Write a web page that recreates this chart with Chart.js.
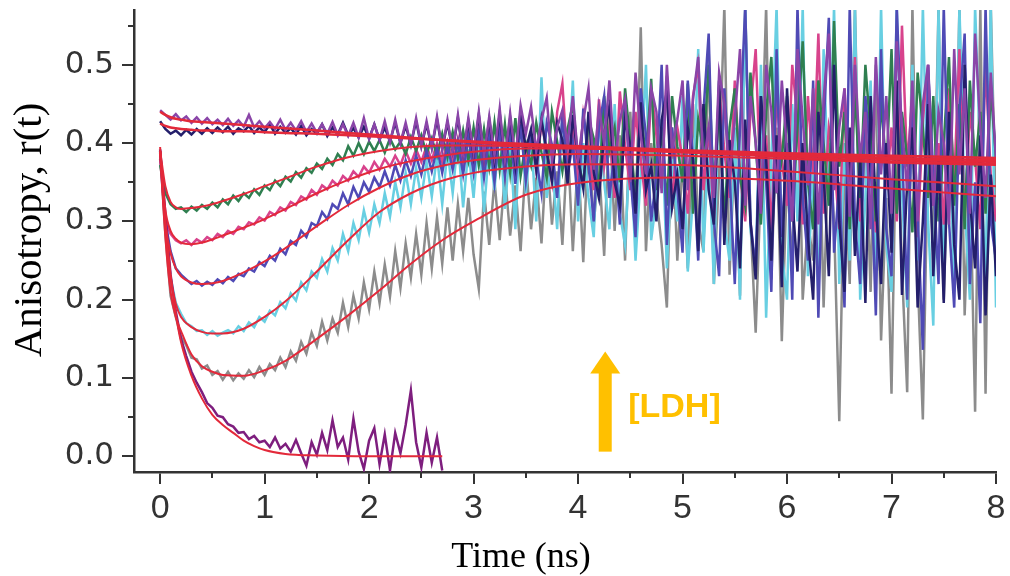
<!DOCTYPE html>
<html>
<head>
<meta charset="utf-8">
<script src="https://cdn.jsdelivr.net/npm/chart.js@4/dist/chart.umd.min.js"></script>
<style>
  body { margin: 0; background: #fff; }
  canvas { display: block; }
</style>
</head>
<body>
<canvas id="chart" width="1010" height="576"></canvas>
<script>
// time axis of the measured traces (ns)
const times = [
  0, 0.05, 0.1, 0.15, 0.2, 0.25, 0.3, 0.35, 0.4, 0.45,
  0.5, 0.55, 0.6, 0.65, 0.7, 0.75, 0.8, 0.85, 0.9, 0.95,
  1, 1.05, 1.1, 1.15, 1.2, 1.25, 1.3, 1.35, 1.4, 1.45,
  1.5, 1.55, 1.6, 1.65, 1.7, 1.75, 1.8, 1.85, 1.9, 1.95,
  2, 2.05, 2.1, 2.15, 2.2, 2.25, 2.3, 2.35, 2.4, 2.45,
  2.5, 2.55, 2.6, 2.65, 2.7, 2.75, 2.8, 2.85, 2.9, 2.95,
  3, 3.05, 3.1, 3.15, 3.2, 3.25, 3.3, 3.35, 3.4, 3.45,
  3.5, 3.55, 3.6, 3.65, 3.7, 3.75, 3.8, 3.85, 3.9, 3.95,
  4, 4.05, 4.1, 4.15, 4.2, 4.25, 4.3, 4.35, 4.4, 4.45,
  4.5, 4.55, 4.6, 4.65, 4.7, 4.75, 4.8, 4.85, 4.9, 4.95,
  5, 5.05, 5.1, 5.15, 5.2, 5.25, 5.3, 5.35, 5.4, 5.45,
  5.5, 5.55, 5.6, 5.65, 5.7, 5.75, 5.8, 5.85, 5.9, 5.95,
  6, 6.05, 6.1, 6.15, 6.2, 6.25, 6.3, 6.35, 6.4, 6.45,
  6.5, 6.55, 6.6, 6.65, 6.7, 6.75, 6.8, 6.85, 6.9, 6.95,
  7, 7.05, 7.1, 7.15, 7.2, 7.25, 7.3, 7.35, 7.4, 7.45,
  7.5, 7.55, 7.6, 7.65, 7.7, 7.75, 7.8, 7.85, 7.9, 7.95,
  8
];

// measured anisotropy traces, one per [LDH]
const navyTrace = [
  0.428, 0.418, 0.412, 0.416, 0.410, 0.417, 0.411, 0.418, 0.412, 0.419,
  0.413, 0.420, 0.414, 0.421, 0.412, 0.419, 0.415, 0.422, 0.413, 0.420,
  0.414, 0.424, 0.412, 0.421, 0.413, 0.419, 0.411, 0.422, 0.410, 0.418,
  0.412, 0.424, 0.409, 0.420, 0.411, 0.426, 0.410, 0.419, 0.407, 0.421,
  0.406, 0.424, 0.404, 0.420, 0.402, 0.426, 0.400, 0.422, 0.398, 0.428,
  0.396, 0.424, 0.394, 0.430, 0.392, 0.426, 0.390, 0.432, 0.386, 0.428,
  0.384, 0.436, 0.382, 0.430, 0.378, 0.438, 0.376, 0.432, 0.372, 0.440,
  0.392, 0.418, 0.366, 0.430, 0.388, 0.352, 0.426, 0.404, 0.348, 0.436,
  0.380, 0.342, 0.440, 0.362, 0.330, 0.412, 0.448, 0.350, 0.320, 0.430,
  0.396, 0.310, 0.452, 0.340, 0.372, 0.300, 0.430, 0.466, 0.318, 0.360,
  0.290, 0.420, 0.380, 0.262, 0.450, 0.340, 0.296, 0.480, 0.270, 0.404,
  0.350, 0.240, 0.430, 0.300, 0.226, 0.460, 0.380, 0.250, 0.410, 0.216,
  0.470, 0.330, 0.236, 0.400, 0.280, 0.200, 0.440, 0.360, 0.230, 0.500,
  0.300, 0.210, 0.420, 0.256, 0.380, 0.196, 0.460, 0.320, 0.220, 0.400,
  0.260, 0.480, 0.206, 0.350, 0.420, 0.190, 0.300, 0.450, 0.230, 0.380,
  0.196, 0.440, 0.270, 0.200, 0.500, 0.330, 0.240, 0.410, 0.180, 0.360,
  0.230
];
const purpleTrace = [
  0.442, 0.436, 0.430, 0.437, 0.429, 0.434, 0.426, 0.433, 0.425, 0.432,
  0.424, 0.430, 0.423, 0.431, 0.422, 0.429, 0.421, 0.436, 0.420, 0.428,
  0.419, 0.427, 0.418, 0.430, 0.417, 0.426, 0.416, 0.428, 0.414, 0.425,
  0.413, 0.424, 0.412, 0.427, 0.410, 0.424, 0.409, 0.426, 0.407, 0.432,
  0.405, 0.424, 0.404, 0.428, 0.401, 0.430, 0.400, 0.426, 0.398, 0.432,
  0.396, 0.428, 0.394, 0.434, 0.392, 0.430, 0.390, 0.436, 0.386, 0.432,
  0.388, 0.440, 0.382, 0.434, 0.384, 0.444, 0.378, 0.438, 0.380, 0.448,
  0.412, 0.446, 0.390, 0.430, 0.458, 0.376, 0.420, 0.442, 0.398, 0.460,
  0.380, 0.428, 0.470, 0.366, 0.446, 0.400, 0.480, 0.372, 0.430, 0.456,
  0.350, 0.490, 0.410, 0.360, 0.470, 0.440, 0.336, 0.500, 0.390, 0.430,
  0.480, 0.340, 0.456, 0.510, 0.370, 0.420, 0.330, 0.490, 0.450, 0.356,
  0.430, 0.520, 0.320, 0.460, 0.400, 0.310, 0.500, 0.440, 0.336, 0.480,
  0.390, 0.300, 0.520, 0.430, 0.346, 0.470, 0.296, 0.456, 0.540, 0.340,
  0.420, 0.470, 0.306, 0.500, 0.380, 0.440, 0.290, 0.510, 0.360, 0.460,
  0.310, 0.530, 0.420, 0.340, 0.480, 0.300, 0.450, 0.500, 0.320, 0.440,
  0.400, 0.296, 0.520, 0.360, 0.470, 0.310, 0.540, 0.420, 0.330, 0.490,
  0.380
];
const greenTrace = [
  0.372, 0.336, 0.322, 0.316, 0.318, 0.312, 0.319, 0.314, 0.321, 0.316,
  0.324, 0.318, 0.328, 0.322, 0.333, 0.326, 0.336, 0.330, 0.341, 0.334,
  0.346, 0.340, 0.352, 0.345, 0.357, 0.351, 0.363, 0.356, 0.368, 0.362,
  0.374, 0.367, 0.380, 0.372, 0.386, 0.378, 0.396, 0.384, 0.400, 0.386,
  0.402, 0.390, 0.404, 0.388, 0.406, 0.392, 0.402, 0.386, 0.408, 0.390,
  0.410, 0.386, 0.406, 0.384, 0.412, 0.382, 0.414, 0.380, 0.416, 0.378,
  0.420, 0.372, 0.418, 0.370, 0.426, 0.366, 0.424, 0.362, 0.432, 0.358,
  0.400, 0.372, 0.426, 0.388, 0.356, 0.440, 0.402, 0.364, 0.418, 0.450,
  0.380, 0.346, 0.432, 0.406, 0.338, 0.460, 0.390, 0.420, 0.350, 0.470,
  0.400, 0.330, 0.446, 0.376, 0.482, 0.340, 0.420, 0.320, 0.460, 0.396,
  0.350, 0.476, 0.310, 0.430, 0.390, 0.500, 0.330, 0.450, 0.300, 0.420,
  0.470, 0.356, 0.320, 0.490, 0.400, 0.296, 0.440, 0.510, 0.336, 0.380,
  0.460, 0.300, 0.420, 0.530, 0.350, 0.290, 0.480, 0.400, 0.320, 0.556,
  0.370, 0.440, 0.290, 0.470, 0.330, 0.500, 0.410, 0.300, 0.456, 0.360,
  0.520, 0.310, 0.440, 0.380, 0.286, 0.490, 0.420, 0.330, 0.460, 0.300,
  0.400, 0.510, 0.320, 0.450, 0.290, 0.480, 0.370, 0.440, 0.310, 0.470,
  0.380
];
const pinkTrace = [
  0.380, 0.300, 0.284, 0.276, 0.272, 0.276, 0.270, 0.277, 0.273, 0.280,
  0.276, 0.284, 0.280, 0.288, 0.284, 0.293, 0.290, 0.299, 0.296, 0.305,
  0.301, 0.312, 0.308, 0.318, 0.314, 0.325, 0.321, 0.332, 0.328, 0.340,
  0.334, 0.346, 0.341, 0.352, 0.346, 0.358, 0.352, 0.364, 0.357, 0.370,
  0.362, 0.376, 0.366, 0.380, 0.370, 0.384, 0.372, 0.390, 0.374, 0.392,
  0.376, 0.396, 0.378, 0.400, 0.376, 0.402, 0.378, 0.406, 0.374, 0.410,
  0.372, 0.414, 0.370, 0.420, 0.366, 0.424, 0.362, 0.430, 0.358, 0.436,
  0.380, 0.410, 0.364, 0.426, 0.392, 0.350, 0.440, 0.476, 0.372, 0.420,
  0.350, 0.436, 0.390, 0.340, 0.456, 0.370, 0.420, 0.330, 0.466, 0.396,
  0.340, 0.440, 0.380, 0.320, 0.470, 0.410, 0.350, 0.486, 0.316, 0.420,
  0.380, 0.310, 0.460, 0.500, 0.340, 0.420, 0.300, 0.470, 0.390, 0.330,
  0.480, 0.360, 0.300, 0.440, 0.520, 0.330, 0.410, 0.290, 0.460, 0.380,
  0.320, 0.500, 0.430, 0.296, 0.460, 0.360, 0.540, 0.310, 0.420, 0.380,
  0.290, 0.470, 0.350, 0.510, 0.300, 0.440, 0.400, 0.286, 0.490, 0.340,
  0.420, 0.300, 0.550, 0.370, 0.460, 0.280, 0.430, 0.500, 0.320, 0.400,
  0.296, 0.470, 0.350, 0.520, 0.300, 0.440, 0.380, 0.290, 0.500, 0.360,
  0.300
];
const indigoTrace = [
  0.390, 0.300, 0.262, 0.240, 0.232, 0.226, 0.220, 0.224, 0.218, 0.223,
  0.219, 0.226, 0.221, 0.229, 0.224, 0.233, 0.230, 0.240, 0.236, 0.248,
  0.243, 0.256, 0.250, 0.265, 0.258, 0.275, 0.270, 0.288, 0.280, 0.298,
  0.294, 0.312, 0.303, 0.322, 0.316, 0.336, 0.322, 0.344, 0.330, 0.350,
  0.338, 0.356, 0.344, 0.364, 0.346, 0.372, 0.352, 0.378, 0.358, 0.384,
  0.360, 0.390, 0.364, 0.394, 0.362, 0.398, 0.366, 0.402, 0.360, 0.408,
  0.362, 0.412, 0.356, 0.410, 0.350, 0.420, 0.358, 0.416, 0.348, 0.424,
  0.352, 0.410, 0.380, 0.336, 0.426, 0.398, 0.330, 0.436, 0.360, 0.400,
  0.320, 0.444, 0.372, 0.300, 0.420, 0.460, 0.330, 0.390, 0.296, 0.450,
  0.360, 0.280, 0.470, 0.410, 0.300, 0.360, 0.500, 0.270, 0.420, 0.340,
  0.260, 0.480, 0.380, 0.250, 0.440, 0.540, 0.300, 0.230, 0.470, 0.360,
  0.220, 0.420, 0.575, 0.300, 0.240, 0.460, 0.350, 0.210, 0.520, 0.280,
  0.400, 0.200, 0.575, 0.330, 0.250, 0.480, 0.177, 0.420, 0.560, 0.260,
  0.350, 0.190, 0.575, 0.300, 0.220, 0.460, 0.380, 0.180, 0.520, 0.290,
  0.230, 0.575, 0.400, 0.200, 0.460, 0.310, 0.136, 0.500, 0.360, 0.220,
  0.575, 0.300, 0.190, 0.440, 0.540, 0.220, 0.350, 0.170, 0.575, 0.300,
  0.250
];
const cyanTrace = [
  0.390, 0.292, 0.228, 0.196, 0.182, 0.170, 0.166, 0.160, 0.161, 0.155,
  0.160, 0.154, 0.158, 0.161, 0.157, 0.166, 0.160, 0.171, 0.165, 0.178,
  0.172, 0.186, 0.180, 0.197, 0.189, 0.208, 0.199, 0.222, 0.212, 0.236,
  0.228, 0.252, 0.236, 0.266, 0.250, 0.284, 0.262, 0.298, 0.276, 0.314,
  0.286, 0.322, 0.298, 0.336, 0.306, 0.350, 0.318, 0.362, 0.322, 0.368,
  0.330, 0.376, 0.332, 0.384, 0.322, 0.390, 0.336, 0.404, 0.318, 0.392,
  0.330, 0.412, 0.312, 0.398, 0.340, 0.420, 0.316, 0.400, 0.290, 0.440,
  0.336, 0.410, 0.300, 0.484, 0.330, 0.380, 0.290, 0.440, 0.358, 0.480,
  0.300, 0.400, 0.330, 0.280, 0.436, 0.350, 0.290, 0.450, 0.310, 0.270,
  0.400, 0.250, 0.360, 0.500, 0.276, 0.330, 0.430, 0.240, 0.380, 0.300,
  0.460, 0.236, 0.330, 0.520, 0.260, 0.400, 0.220, 0.480, 0.300, 0.250,
  0.420, 0.200, 0.575, 0.290, 0.240, 0.500, 0.177, 0.380, 0.575, 0.260,
  0.200, 0.450, 0.300, 0.575, 0.230, 0.360, 0.210, 0.520, 0.320, 0.575,
  0.220, 0.400, 0.250, 0.575, 0.200, 0.330, 0.480, 0.230, 0.575, 0.270,
  0.210, 0.575, 0.340, 0.190, 0.500, 0.250, 0.575, 0.300, 0.167, 0.575,
  0.240, 0.460, 0.210, 0.575, 0.320, 0.200, 0.575, 0.380, 0.230, 0.575,
  0.190
];
const grayTrace = [
  0.388, 0.285, 0.205, 0.178, 0.152, 0.142, 0.126, 0.124, 0.112, 0.116,
  0.104, 0.109, 0.098, 0.108, 0.097, 0.106, 0.099, 0.110, 0.101, 0.114,
  0.104, 0.118, 0.110, 0.126, 0.114, 0.134, 0.122, 0.146, 0.131, 0.158,
  0.141, 0.172, 0.148, 0.176, 0.158, 0.196, 0.165, 0.205, 0.176, 0.222,
  0.188, 0.236, 0.196, 0.245, 0.204, 0.262, 0.215, 0.272, 0.228, 0.284,
  0.232, 0.298, 0.240, 0.305, 0.246, 0.318, 0.250, 0.322, 0.262, 0.330,
  0.258, 0.214, 0.338, 0.270, 0.352, 0.276, 0.360, 0.282, 0.346, 0.262,
  0.378, 0.290, 0.356, 0.272, 0.392, 0.296, 0.364, 0.270, 0.402, 0.262,
  0.384, 0.248, 0.420, 0.296, 0.374, 0.256, 0.440, 0.288, 0.410, 0.250,
  0.440, 0.300, 0.548, 0.262, 0.400, 0.330, 0.270, 0.190, 0.420, 0.250,
  0.380, 0.240, 0.450, 0.300, 0.262, 0.520, 0.220, 0.360, 0.575, 0.232,
  0.400, 0.205, 0.575, 0.300, 0.158, 0.350, 0.575, 0.226, 0.420, 0.147,
  0.360, 0.240, 0.520, 0.200, 0.300, 0.250, 0.480, 0.190, 0.400, 0.300,
  0.045, 0.380, 0.220, 0.575, 0.260, 0.420, 0.210, 0.500, 0.148, 0.330,
  0.080, 0.460, 0.240, 0.082, 0.575, 0.230, 0.047, 0.400, 0.260, 0.575,
  0.200, 0.420, 0.240, 0.575, 0.180, 0.370, 0.057, 0.575, 0.080, 0.575,
  0.300
];
// no LDH: decays to zero, recorded only up to 2.7 ns
const bottomTrace = [
  0.392, 0.310, 0.232, 0.185, 0.150, 0.128, 0.108, 0.094, 0.082, 0.068,
  0.062, 0.052, 0.050, 0.041, 0.038, 0.030, 0.031, 0.022, 0.026, 0.018,
  0.020, 0.012, 0.024, 0.010, 0.016, 0.006, 0.021, 0.004, -0.012, 0.018,
  0.002, 0.030, 0.008, 0.046, 0.012, 0.024, -0.004, 0.048, 0.006, -0.016,
  0.020, 0.036, -0.010, 0.028, -0.018, 0.030, 0.004, 0.040, 0.084, 0.018,
  -0.014, 0.030, -0.008, 0.024, -0.018
];

// fitted curves (red)
const fitTimes = [0, 0.05, 0.1, 0.15, 0.2, 0.3, 0.4, 0.5, 0.6, 0.8, 1.0, 1.2, 1.5, 1.8, 2.1, 2.4, 2.7, 3.0, 3.5, 4.0, 5.0, 6.0, 7.0, 8.0];
const fitNavy   = [0.425, 0.422, 0.420, 0.419, 0.418, 0.417, 0.416, 0.416, 0.415, 0.415, 0.414, 0.413, 0.412, 0.410, 0.408, 0.406, 0.404, 0.402, 0.399, 0.396, 0.391, 0.387, 0.384, 0.381];
const fitPurple = [0.440, 0.436, 0.433, 0.431, 0.430, 0.428, 0.427, 0.426, 0.425, 0.423, 0.421, 0.419, 0.416, 0.413, 0.410, 0.407, 0.404, 0.401, 0.397, 0.394, 0.389, 0.385, 0.381, 0.378];
const fitGreen  = [0.390, 0.345, 0.325, 0.318, 0.316, 0.317, 0.319, 0.322, 0.326, 0.335, 0.345, 0.355, 0.370, 0.382, 0.390, 0.395, 0.397, 0.397, 0.396, 0.394, 0.389, 0.384, 0.379, 0.376];
const fitPink   = [0.390, 0.315, 0.288, 0.278, 0.273, 0.271, 0.273, 0.277, 0.282, 0.292, 0.303, 0.316, 0.336, 0.353, 0.367, 0.377, 0.384, 0.389, 0.393, 0.393, 0.388, 0.382, 0.377, 0.374];
const fitIndigo = [0.390, 0.298, 0.260, 0.240, 0.230, 0.222, 0.220, 0.221, 0.224, 0.235, 0.249, 0.266, 0.294, 0.321, 0.343, 0.360, 0.371, 0.378, 0.384, 0.386, 0.384, 0.380, 0.375, 0.372];
const fitCyan   = [0.390, 0.290, 0.228, 0.195, 0.178, 0.165, 0.159, 0.157, 0.157, 0.163, 0.178, 0.198, 0.236, 0.276, 0.312, 0.336, 0.352, 0.362, 0.370, 0.373, 0.372, 0.364, 0.354, 0.345];
const fitGray   = [0.390, 0.280, 0.210, 0.178, 0.160, 0.130, 0.115, 0.108, 0.104, 0.103, 0.110, 0.122, 0.150, 0.180, 0.212, 0.246, 0.276, 0.300, 0.334, 0.349, 0.356, 0.352, 0.342, 0.332];
const fitBottomTimes = [0, 0.05, 0.1, 0.15, 0.2, 0.3, 0.4, 0.5, 0.6, 0.7, 0.8, 0.9, 1.0, 1.2, 1.5, 2.0, 2.7];
const fitBottom = [0.395, 0.300, 0.232, 0.182, 0.146, 0.103, 0.074, 0.053, 0.040, 0.030, 0.020, 0.013, 0.008, 0.003, 0.001, 0.000, 0.000];

// axis ticks
const minorTicksX = [0.5, 1.5, 2.5, 3.5, 4.5, 5.5, 6.5, 7.5];
const minorTicksY = [0.05, 0.15, 0.25, 0.35, 0.45, 0.55];

// "[LDH]" arrow annotation, in data units
const arrowTime = 4.26;
const arrowBase = 0.006;
const arrowTip = 0.134;
const labelTime = 4.48;
const labelValue = 0.062;

const fitColor = '#e3293a';
const axisColor = '#333333';
const orange = '#ffc000';

function toPoints(ts, vs) {
  return vs.map((v, i) => ({ x: ts[i], y: v }));
}

function trace(label, values, color) {
  return {
    label: label,
    data: toPoints(times, values),
    borderColor: color,
    borderWidth: 2.5,
    pointRadius: 0,
    tension: 0,
    clip: 0
  };
}

function fit(label, ts, values, width) {
  return {
    label: label,
    data: toPoints(ts, values),
    borderColor: fitColor,
    borderWidth: width,
    pointRadius: 0,
    cubicInterpolationMode: 'monotone',
    clip: 0
  };
}

// minor ticks, axis titles and the [LDH] arrow
const extras = {
  id: 'extras',
  afterDraw(chart) {
    const { ctx, chartArea, scales } = chart;
    const x = scales.x, y = scales.y;
    ctx.save();
    ctx.strokeStyle = axisColor;
    ctx.lineWidth = 2;
    ctx.beginPath();
    minorTicksX.forEach(v => {
      const px = Math.round(x.getPixelForValue(v));
      ctx.moveTo(px, chartArea.bottom);
      ctx.lineTo(px, chartArea.bottom + 6);
    });
    minorTicksY.forEach(v => {
      const py = Math.round(y.getPixelForValue(v));
      ctx.moveTo(chartArea.left - 6, py);
      ctx.lineTo(chartArea.left, py);
    });
    ctx.stroke();

    // arrow
    const ax = x.getPixelForValue(arrowTime);
    const yBase = y.getPixelForValue(arrowBase);
    const yTip = y.getPixelForValue(arrowTip);
    const headLen = 22;
    ctx.fillStyle = orange;
    ctx.fillRect(ax - 6.5, yTip + headLen - 1, 13, yBase - yTip - headLen + 1);
    ctx.beginPath();
    ctx.moveTo(ax, yTip);
    ctx.lineTo(ax + 15, yTip + headLen);
    ctx.lineTo(ax - 15, yTip + headLen);
    ctx.closePath();
    ctx.fill();

    ctx.font = 'bold 34px "Liberation Sans", Arial, sans-serif';
    ctx.textAlign = 'left';
    ctx.textBaseline = 'middle';
    ctx.fillText('[LDH]', x.getPixelForValue(labelTime), y.getPixelForValue(labelValue));

    // axis titles
    ctx.fillStyle = '#000';
    ctx.font = '36px "Liberation Serif", "Times New Roman", serif';
    ctx.textAlign = 'center';
    ctx.textBaseline = 'alphabetic';
    ctx.fillText('Time (ns)', chartArea.left + 387, 567);

    ctx.translate(30, (chartArea.top + chartArea.bottom) / 2 - 11);
    ctx.rotate(-Math.PI / 2);
    ctx.font = '41px "Liberation Serif", "Times New Roman", serif';
    ctx.textBaseline = 'middle';
    ctx.fillText('Anisotropy, r(t)', 0, 0);
    ctx.restore();
  }
};

const datasets = [
  fit('fit navy', fitTimes, fitNavy, 2.5),
  fit('fit purple', fitTimes, fitPurple, 2.5),
  fit('fit green', fitTimes, fitGreen, 2),
  fit('fit pink', fitTimes, fitPink, 2),
  fit('fit indigo', fitTimes, fitIndigo, 2),
  fit('fit cyan', fitTimes, fitCyan, 2),
  fit('fit gray', fitTimes, fitGray, 2),
  fit('fit no LDH', fitBottomTimes, fitBottom, 2),
  trace('no LDH', bottomTrace, '#7e1e7e'),
  trace('purple', purpleTrace, '#8a45a8'),
  trace('navy', navyTrace, '#241f6b'),
  trace('indigo', indigoTrace, '#4f4ab5'),
  trace('green', greenTrace, '#2f7f50'),
  trace('pink', pinkTrace, '#d8438c'),
  trace('cyan', cyanTrace, '#68cfe2'),
  trace('gray', grayTrace, '#8c8c8c')
];

const ctx = document.getElementById('chart').getContext('2d');
new Chart(ctx, {
  type: 'line',
  data: { datasets: datasets },
  options: {
    responsive: false,
    animation: false,
    events: [],
    layout: { padding: { left: 0, right: 14, top: 10, bottom: 0 } },
    plugins: {
      legend: { display: false },
      tooltip: { enabled: false }
    },
    scales: {
      x: {
        type: 'linear',
        min: -0.25,
        max: 8,
        afterFit: scale => { scale.height = 104; },
        ticks: {
          stepSize: 1,
          includeBounds: false,
          maxRotation: 0,
          padding: 4,
          color: axisColor,
          font: { family: '"Liberation Sans", Arial, sans-serif', size: 34 },
          callback: v => v
        },
        grid: { drawOnChartArea: false, tickLength: 12, color: axisColor, lineWidth: 2 },
        border: { color: axisColor, width: 2.5 }
      },
      y: {
        min: -0.02,
        max: 0.57,
        afterFit: scale => {
          scale.width = 134;
          scale.paddingTop = 0;
          scale.paddingBottom = 0;
        },
        ticks: {
          stepSize: 0.1,
          includeBounds: false,
          padding: 8,
          color: axisColor,
          font: { family: '"DejaVu Sans", sans-serif', size: 31 },
          callback: v => v.toFixed(1)
        },
        grid: { drawOnChartArea: false, tickLength: 12, color: axisColor, lineWidth: 2 },
        border: { color: axisColor, width: 2.5 }
      }
    }
  },
  plugins: [extras]
});
</script>
</body>
</html>
